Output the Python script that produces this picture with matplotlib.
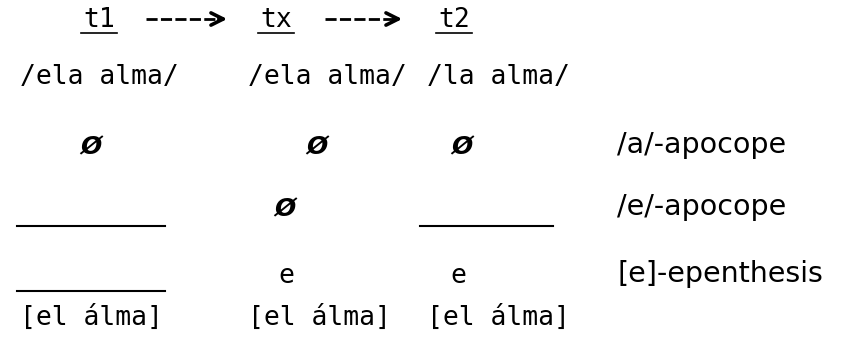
import matplotlib.pyplot as plt

# stages of the derivation and the rules that apply
stages = ['t1', 'tx', 't2']
forms = ['/ela alma/', '/ela alma/', '/la alma/']
rules = ['/a/-apocope', '/e/-apocope', '[e]-epenthesis']
a_apocope = ['Ø', 'Ø', 'Ø']
e_apocope = [None, 'Ø', None]
epenthesis = [None, 'e', 'e']
outputs = ['[el álma]', '[el álma]', '[el álma]']

rule_rows = [a_apocope, e_apocope, epenthesis]

mono = 'DejaVu Sans Mono'
sans = 'DejaVu Sans'

fig = plt.figure(figsize=(8.44, 3.56), dpi=100)
ax = fig.add_axes([0, 0, 1, 1])
ax.set_xlim(0, 844)
ax.set_ylim(356, 0)
ax.axis('off')

# заголовки t1 -> tx -> t2
stage_x = [99, 276, 454]
for x, s in zip(stage_x, stages):
    ax.text(x, 27, s, family=mono, fontsize=19, ha='center', va='baseline')
    ax.plot([x - 18, x + 18], [33, 33], color='black', lw=1.2)

arrows = [(146, 230), (325, 405)]
for x0, x1 in arrows:
    ax.plot([x0, x1 - 8], [19, 19], color='black', lw=2,
            linestyle=(0, (4, 1.2)), solid_capstyle='butt')
    ax.annotate('', xy=(x1, 19), xytext=(x1 - 14, 19),
                arrowprops=dict(arrowstyle='->', lw=2.6, color='black',
                                mutation_scale=22))

# исходные формы
form_x = [20, 248, 427]
for x, f in zip(form_x, forms):
    ax.text(x, 84, f, family=mono, fontsize=19, ha='left', va='baseline')

# применение правил
mark_x = [[91, 317, 462], [91, 285, 487], [91, 286, 458]]
mark_y = [147, 209, 276]
line_y = [226, 226, 291]
blank_span = [(17, 165), None, (420, 553)]
rule_base = [153, 215, 282]
for i, row in enumerate(rule_rows):
    for j, m in enumerate(row):
        if m is None:
            x0, x1 = blank_span[j]
            ax.plot([x0, x1], [line_y[i], line_y[i]], color='black', lw=1.5)
        elif m == 'Ø':
            ax.text(mark_x[i][j], mark_y[i], m, family=sans, fontsize=18,
                    fontweight='bold', fontstyle='italic', ha='center', va='center')
        else:
            ax.text(mark_x[i][j], mark_y[i], m, family=mono, fontsize=19,
                    ha='center', va='center')
    ax.text(617, rule_base[i], rules[i], family=sans, fontsize=20.5,
            ha='left', va='baseline')

# поверхностные формы
for x, o in zip(form_x, outputs):
    ax.text(x, 325, o, family=mono, fontsize=19, ha='left', va='baseline')

fig.savefig('out.png', dpi=100, facecolor='white')
